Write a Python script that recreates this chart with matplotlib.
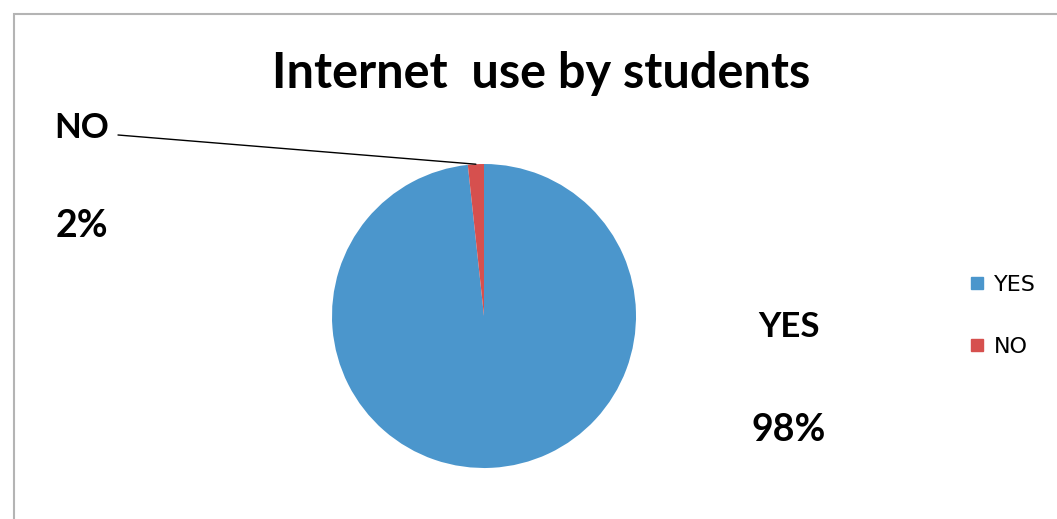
import matplotlib.pyplot as plt
from matplotlib.lines import Line2D
from matplotlib.patches import Rectangle
import numpy as np

labels = ['YES', 'NO']
values = [98.3, 1.7]
colors = ['#4b96cc', '#d6504e']

W, H = 1057, 519
fig = plt.figure(figsize=(W / 100, H / 100), dpi=100)
fig.patch.set_facecolor('white')

# chart border (runs off the right/bottom edges)
fig.patches.append(Rectangle((14 / W, -0.1), 1.2, 1 - 14 / H + 0.1, transform=fig.transFigure,
                             fill=False, edgecolor='#b4b4b4', linewidth=1.5))

# pie axes: centre (484, 316) px, radius 152 px
cx, cy, r = 484, 316, 152
ax = fig.add_axes([(cx - r) / W, (H - cy - r) / H, 2 * r / W, 2 * r / H])
wedges, _ = ax.pie(values, colors=colors, startangle=90, counterclock=False, radius=1,
                   wedgeprops=dict(linewidth=0))
ax.set_xlim(-1, 1)
ax.set_ylim(-1, 1)
ax.axis('off')

font = 'Lato'
fig.text(541 / W, 1 - 73 / H, 'Internet  use by students', ha='center', va='center',
         fontsize=35, fontweight='bold', family=font)

# data labels
pct = [f'{v:.0f}%' for v in values]
fig.text(82 / W, 1 - 128 / H, labels[1], ha='center', va='center', fontsize=25, fontweight='bold', family=font)
fig.text(82 / W, 1 - 226 / H, pct[1], ha='center', va='center', fontsize=27, fontweight='bold', family=font)
fig.text(789 / W, 1 - 327 / H, labels[0], ha='center', va='center', fontsize=25, fontweight='bold', family=font)
fig.text(789 / W, 1 - 430 / H, pct[0], ha='center', va='center', fontsize=27, fontweight='bold', family=font)

# leader line for the NO slice
w = wedges[1]
mid = np.deg2rad((w.theta1 + w.theta2) / 2)
ax.annotate('', xy=(np.cos(mid), np.sin(mid)), xycoords='data',
            xytext=(118 / W, 1 - 135 / H), textcoords='figure fraction',
            arrowprops=dict(arrowstyle='-', color='black', linewidth=1, shrinkA=0, shrinkB=0))

handles = [Line2D([], [], marker='s', linestyle='', color=c, markersize=8) for c in colors]
fig.legend(handles, labels, loc='center left', bbox_to_anchor=(948 / W, 1 - 316 / H),
           frameon=False, handlelength=0.8, handletextpad=0.35, labelspacing=1.9,
           prop={'family': 'DejaVu Sans', 'size': 16})

fig.savefig('out.png', dpi=100)
